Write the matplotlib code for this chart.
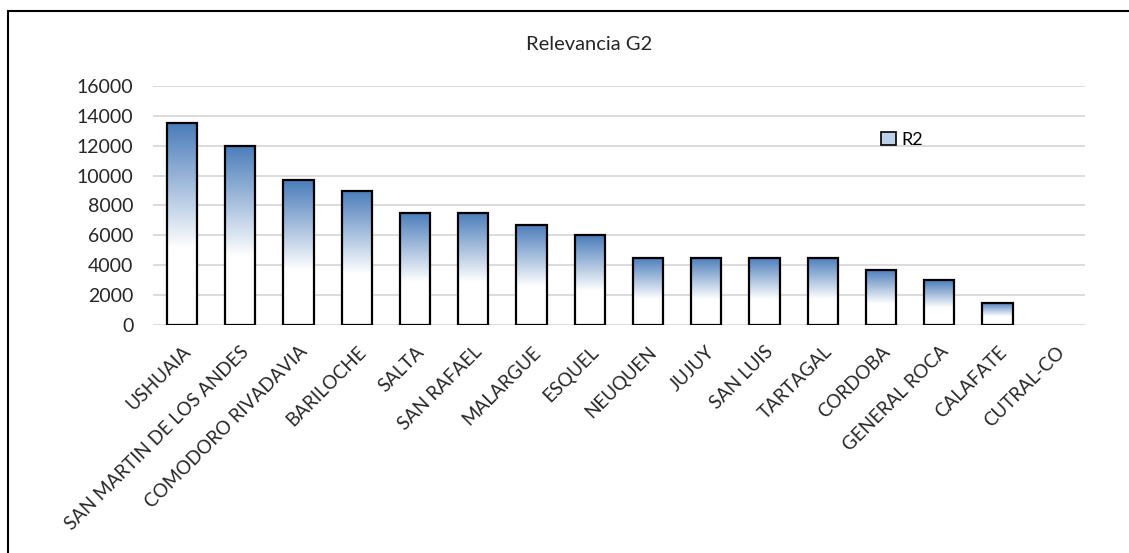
import numpy as np
import matplotlib.pyplot as plt
from matplotlib.patches import Rectangle
from matplotlib.colors import LinearSegmentedColormap

plt.rcParams['font.family'] = ['Lato', 'DejaVu Sans']

cities = ["USHUAIA", "SAN MARTIN DE LOS ANDES", "COMODORO RIVADAVIA", "BARILOCHE",
          "SALTA", "SAN RAFAEL", "MALARGUE", "ESQUEL", "NEUQUEN", "JUJUY",
          "SAN LUIS", "TARTAGAL", "CORDOBA", "GENERAL ROCA", "CALAFATE", "CUTRAL-CO"]
r2 = [13500, 12000, 9700, 9000, 7500, 7500, 6700, 6000, 4500, 4500,
      4500, 4500, 3700, 3000, 1500, 0]
yticks = [0, 2000, 4000, 6000, 8000, 10000, 12000, 14000, 16000]

# blue at the top fading to white a bit past the middle
grad_cmap = LinearSegmentedColormap.from_list(
    "barfade", [(0.0, "#ffffff"), (0.38, "#ffffff"), (1.0, "#4a7cba")])
grad = np.linspace(0, 1, 256).reshape(-1, 1)

fig = plt.figure(figsize=(11.29, 5.53), dpi=100)
ax = fig.add_axes([0.1355, 0.4123, 0.8255, 0.4322])

# outer chart frame (only left/top edges show in the picture)
fig.patches.append(Rectangle((8 / 1129, -0.1), 1.2, 1 - 11 / 553 + 0.1,
                             transform=fig.transFigure, fill=False,
                             edgecolor="black", linewidth=1.5, zorder=0))

x = np.arange(len(cities))
width = 0.52
bars = ax.bar(x, r2, width=width, facecolor="none", edgecolor="black",
              linewidth=1.6, zorder=3)
for b in bars:
    h = b.get_height()
    if h <= 0:
        b.set_linewidth(0)
        continue
    bx = b.get_x()
    im = ax.imshow(grad, cmap=grad_cmap, aspect="auto", origin="lower",
                   extent=[bx, bx + b.get_width(), 0, h], zorder=2)
    im.set_clip_path(b)

ax.set_xlim(-0.5, len(cities) - 0.5)
ax.set_ylim(0, 16000)
ax.set_yticks(yticks)
ax.set_yticklabels([str(v) for v in yticks], fontsize=14, color="#262626")
ax.set_xticks(x)
ax.set_xticklabels(cities, rotation=45, ha="right", rotation_mode="anchor",
                   fontsize=13.5, color="#262626")
ax.tick_params(length=0, pad=13)
ax.tick_params(axis="y", pad=14)
ax.grid(axis="y", color="#d9d9d9", linewidth=1.3, zorder=0)
ax.set_axisbelow(True)
for s in ax.spines.values():
    s.set_visible(False)

fig.text(0.5215, 1 - 45 / 553, "Relevancia G2", ha="center", va="center",
         fontsize=14.5, color="#262626")

handle = Rectangle((0, 0), 1, 1, facecolor="#bcd0ea", edgecolor="black", linewidth=1.2)
ax.legend([handle], ["R2"], loc="center left", bbox_to_anchor=(0.764, 0.775),
          frameon=False, fontsize=13, handlelength=0.8, handleheight=0.8,
          handletextpad=0.3)

fig.savefig("out.png", dpi=100)
